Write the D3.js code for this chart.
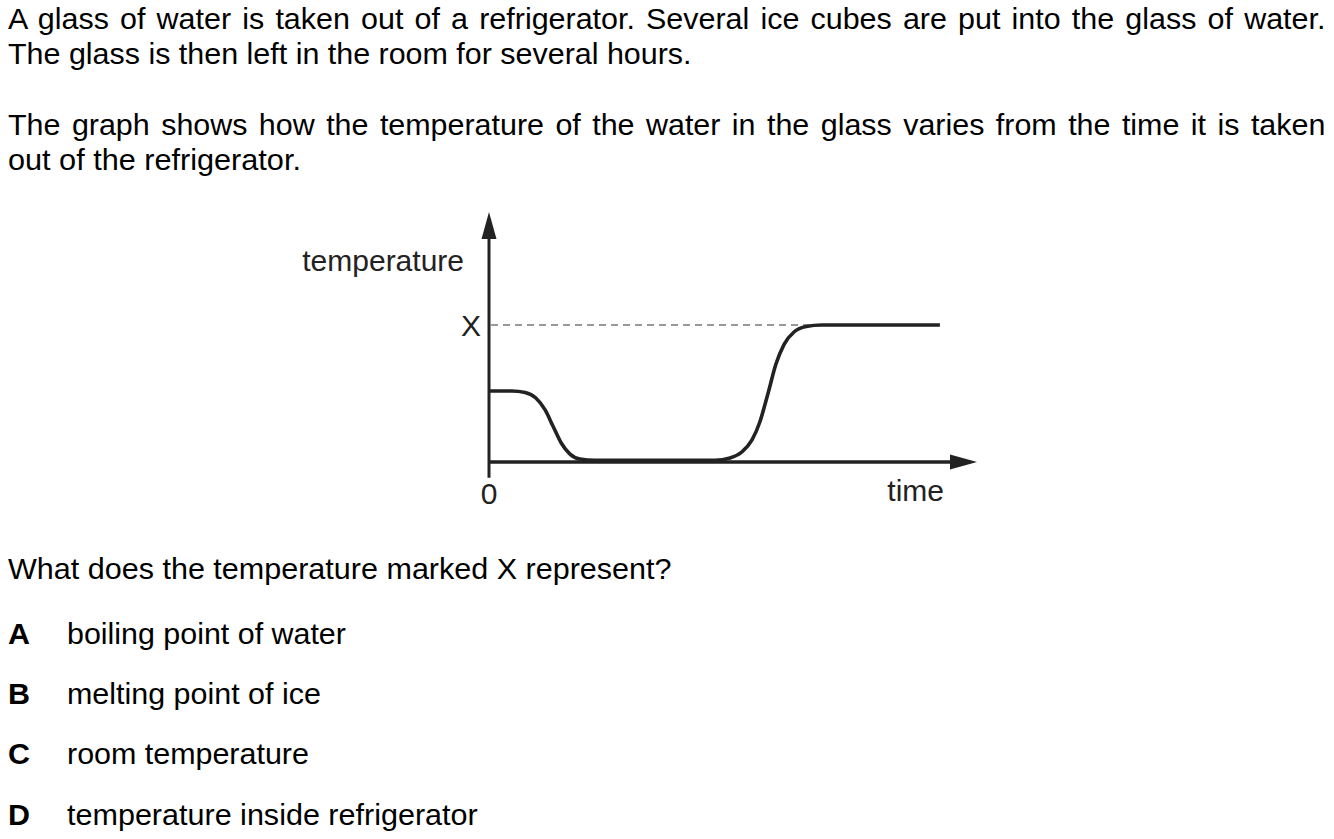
<!DOCTYPE html>
<html>
<head>
<meta charset="utf-8">
<script src="https://cdn.jsdelivr.net/npm/d3@7"></script>
<style>
  html, body { margin: 0; padding: 0; background: #fff; }
  svg { display: block; }
  text { font-family: "Liberation Sans", Arial, Helvetica, sans-serif; }
</style>
</head>
<body>
<svg id="chart" width="1334" height="839"></svg>
<script>
// ---------- data ----------
const introLines = [
  "A glass of water is taken out of a refrigerator. Several ice cubes are put into the glass of water.",
  "The glass is then left in the room for several hours."
];
const graphLines = [
  "The graph shows how the temperature of the water in the glass varies from the time it is taken",
  "out of the refrigerator."
];
const question = "What does the temperature marked X represent?";
const optionLetters = ["A", "B", "C", "D"];
const optionTexts = ["boiling point of water", "melting point of ice", "room temperature", "temperature inside refrigerator"];

// curve (time in arbitrary units, temperature with X = 10)
const timeValues = [0, 0.47, 0.74, 0.96, 1.15, 1.31, 1.48, 1.66, 1.86, 2.17, 4.63, 4.94, 5.18, 5.39, 5.55, 5.72, 5.88, 6.05, 6.25, 6.50, 6.82, 9.24];
const tempValues = [5.18, 5.18, 5.07, 4.67, 3.80, 2.63, 1.39, 0.58, 0.22, 0.12, 0.12, 0.29, 0.73, 1.61, 2.92, 5.04, 7.15, 8.61, 9.49, 9.89, 10, 10];
const xLevel = 10;          // temperature marked X
const xAxisLabels = ["0", "time"];
const yAxisLabels = ["temperature", "X"];

// ---------- layout ----------
const svg = d3.select("#chart");
const ink = "#000";
const gInk = "#222";
const FS = 29, SX = 1.05;

function fitText(str, x0, x1, baseline, opts = {}) {
  const t = svg.append("text")
    .attr("x", 0).attr("y", 0)
    .attr("font-size", opts.size || FS)
    .attr("font-weight", opts.bold ? "bold" : "normal")
    .attr("fill", opts.fill || ink)
    .text(str);
  const w = t.node().getComputedTextLength();
  let sx = SX;
  if (opts.justify) {
    const spaces = (str.match(/ /g) || []).length;
    const ws = ((x1 - x0) / SX - w) / spaces;
    t.attr("word-spacing", ws);
  } else if (x1 != null) {
    sx = (x1 - x0) / w;
  }
  t.attr("transform", `translate(${x0},${baseline}) scale(${sx},1)`);
  return t;
}

// paragraphs
fitText(introLines[0], 8, 1326, 29, { justify: true });
fitText(introLines[1], 8, 692, 64);
fitText(graphLines[0], 8, 1326, 135, { justify: true });
fitText(graphLines[1], 8, 301, 170);
fitText(question, 8, 672, 579);

const optBase = [644, 704, 764, 825];
const optRight = [346, 321, 309, 478];
optionLetters.forEach((L, i) => {
  fitText(L, 8, null, optBase[i], { bold: true });
  fitText(optionTexts[i], 67, optRight[i], optBase[i]);
});

// ---------- chart ----------
const x = d3.scaleLinear().domain([0, 10]).range([489, 977]);
const y = d3.scaleLinear().domain([0, 10]).range([462, 325]);
const yTop = 18.25;      // arrow tip of temperature axis
const xEnd = 10;         // arrow tip of time axis

// dashed reference line at X
svg.append("line")
  .attr("x1", x(0) + 2).attr("x2", x(6.82))
  .attr("y1", y(xLevel)).attr("y2", y(xLevel))
  .attr("stroke", "#333").attr("stroke-width", 1)
  .attr("stroke-dasharray", "7,5");

// axes
const axW = 3;
svg.append("line")
  .attr("x1", x(0)).attr("x2", x(0))
  .attr("y1", y(-1.15)).attr("y2", y(yTop) + 22)
  .attr("stroke", gInk).attr("stroke-width", axW);
svg.append("path")
  .attr("d", `M${x(0)},${y(yTop)} L${x(0) - 7.5},${y(yTop) + 27} L${x(0) + 7.5},${y(yTop) + 27} Z`)
  .attr("fill", gInk);

svg.append("line")
  .attr("x1", x(0)).attr("x2", x(xEnd) - 22)
  .attr("y1", y(0)).attr("y2", y(0))
  .attr("stroke", gInk).attr("stroke-width", axW + 0.5);
svg.append("path")
  .attr("d", `M${x(xEnd)},${y(0)} L${x(xEnd) - 27},${y(0) - 7.5} L${x(xEnd) - 27},${y(0) + 7.5} Z`)
  .attr("fill", gInk);

// curve
const pts = timeValues.map((t, i) => [t, tempValues[i]]);
const line = d3.line()
  .x(d => x(d[0])).y(d => y(d[1]))
  .curve(d3.curveMonotoneX);
svg.append("path")
  .datum(pts)
  .attr("d", line)
  .attr("fill", "none")
  .attr("stroke", gInk)
  .attr("stroke-width", 3.6)
  .attr("stroke-linejoin", "round");

// chart labels
const CFS = 30;
svg.append("text").attr("x", 464).attr("y", 271).attr("text-anchor", "end")
  .attr("font-size", CFS).attr("fill", gInk).text(yAxisLabels[0]);
svg.append("text").attr("x", 481).attr("y", y(xLevel) + 11).attr("text-anchor", "end")
  .attr("font-size", CFS).attr("fill", gInk).text(yAxisLabels[1]);
svg.append("text").attr("x", x(0)).attr("y", 504).attr("text-anchor", "middle")
  .attr("font-size", CFS).attr("fill", gInk).text(xAxisLabels[0]);
svg.append("text").attr("x", 944).attr("y", 501).attr("text-anchor", "end")
  .attr("font-size", CFS).attr("fill", gInk).text(xAxisLabels[1]);
</script>
</body>
</html>
